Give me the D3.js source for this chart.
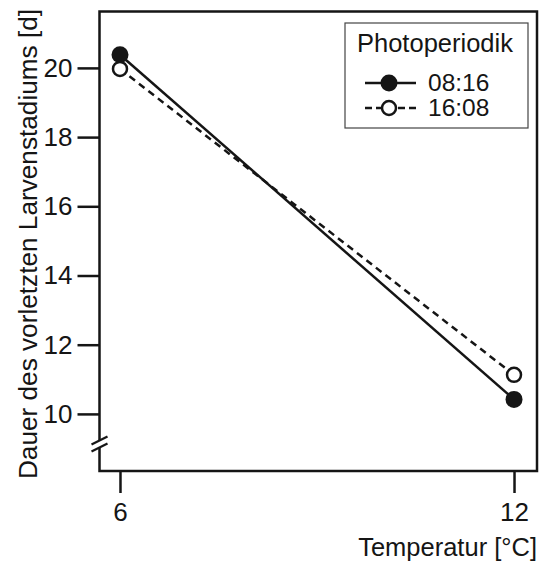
<!DOCTYPE html>
<html>
<head>
<meta charset="utf-8">
<script src="https://cdn.jsdelivr.net/npm/d3@7"></script>
<style>
  html, body { margin: 0; padding: 0; background: #fff; }
  svg { display: block; font-family: "Liberation Sans", Arial, sans-serif; }
</style>
</head>
<body>
<svg id="chart" width="540" height="562"></svg>
<script>
// Temperature levels (°C)
const temperatures = [6, 12];
// Duration of the penultimate larval instar (days) per photoperiod
const shortDay = [20.38, 10.42];   // 08:16
const longDay = [19.97, 11.13];    // 16:08
const seriesNames = ["08:16", "16:08"];
const yTicks = [10, 12, 14, 16, 18, 20];
const xTicks = [6, 12];

const svg = d3.select("#chart");
const plot = { left: 99.5, right: 537, top: 11.5, bottom: 471 };
const ink = "#151515";
const lw = 2.5;

const x = d3.scaleLinear().domain([5.688, 12.35]).range([plot.left, plot.right]);
const y = d3.scaleLinear().domain([8.35, 21.63]).range([plot.bottom, plot.top]);

// frame
svg.append("rect")
  .attr("x", plot.left).attr("y", plot.top)
  .attr("width", plot.right - plot.left).attr("height", plot.bottom - plot.top)
  .attr("fill", "none").attr("stroke", ink).attr("stroke-width", lw);

// y axis
const yAxis = svg.append("g")
  .attr("transform", `translate(${plot.left},0)`)
  .call(d3.axisLeft(y).tickValues(yTicks).tickSize(22).tickPadding(5).tickSizeOuter(0)
    .tickFormat(d3.format("d")));
yAxis.select(".domain").remove();
yAxis.selectAll(".tick line").attr("stroke", ink).attr("stroke-width", lw);
yAxis.selectAll(".tick text").attr("font-size", 26).attr("fill", ink)
  .attr("font-family", "'Liberation Sans', Arial, sans-serif");

// x axis
const xAxis = svg.append("g")
  .attr("transform", `translate(0,${plot.bottom})`)
  .call(d3.axisBottom(x).tickValues(xTicks).tickSize(22).tickPadding(10).tickSizeOuter(0)
    .tickFormat(d3.format("d")));
xAxis.select(".domain").remove();
xAxis.selectAll(".tick line").attr("stroke", ink).attr("stroke-width", lw);
xAxis.selectAll(".tick text").attr("font-size", 26).attr("fill", ink)
  .attr("font-family", "'Liberation Sans', Arial, sans-serif");

// axis break marks on the y axis
const breakY = 444;
svg.append("rect").attr("x", plot.left - 3).attr("y", breakY - 3).attr("width", 6).attr("height", 6).attr("fill", "#fff");
[-3.5, 3.5].forEach(d => {
  svg.append("line")
    .attr("x1", plot.left - 8).attr("y1", breakY + d + 4)
    .attr("x2", plot.left + 8).attr("y2", breakY + d - 4)
    .attr("stroke", ink).attr("stroke-width", 2.2);
});

// series lines
const line = d3.line().x((d, i) => x(temperatures[i])).y(d => y(d));
svg.append("path").datum(longDay).attr("d", line)
  .attr("fill", "none").attr("stroke", ink).attr("stroke-width", lw)
  .attr("stroke-dasharray", "7,5");
svg.append("path").datum(shortDay).attr("d", line)
  .attr("fill", "none").attr("stroke", ink).attr("stroke-width", lw);

// markers
svg.selectAll(".m-short").data(shortDay).enter().append("circle")
  .attr("cx", (d, i) => x(temperatures[i])).attr("cy", d => y(d))
  .attr("r", 8.5).attr("fill", ink);
svg.selectAll(".m-long").data(longDay).enter().append("circle")
  .attr("cx", (d, i) => x(temperatures[i])).attr("cy", d => y(d))
  .attr("r", 7).attr("fill", "#fff").attr("stroke", ink).attr("stroke-width", lw);

// axis titles
svg.append("text")
  .attr("x", 537).attr("y", 556).attr("text-anchor", "end")
  .attr("font-size", 25.5).attr("fill", ink)
  .text("Temperatur [°C]");
svg.append("text")
  .attr("transform", "translate(37,244) rotate(-90)")
  .attr("text-anchor", "middle")
  .attr("font-size", 26.2).attr("fill", ink)
  .text("Dauer des vorletzten Larvenstadiums [d]");

// legend
const lg = svg.append("g");
lg.append("rect").attr("x", 345).attr("y", 23).attr("width", 183).attr("height", 105)
  .attr("fill", "#fff").attr("stroke", "#444").attr("stroke-width", 1.2);
lg.append("text").attr("x", 357).attr("y", 52).attr("font-size", 25.5).attr("fill", ink)
  .text("Photoperiodik");
const rows = [
  { name: seriesNames[0], dash: null, fill: ink, r: 8.5, cy: 83 },
  { name: seriesNames[1], dash: "7,4", fill: "#fff", r: 7, cy: 108 }
];
rows.forEach(r => {
  lg.append("line").attr("x1", 365).attr("x2", 416).attr("y1", r.cy).attr("y2", r.cy)
    .attr("stroke", ink).attr("stroke-width", lw)
    .attr("stroke-dasharray", r.dash);
  lg.append("circle").attr("cx", 389).attr("cy", r.cy).attr("r", r.r)
    .attr("fill", r.fill).attr("stroke", r.fill === "#fff" ? ink : "none").attr("stroke-width", lw);
  lg.append("text").attr("x", 428).attr("y", r.cy + 8).attr("font-size", 24.5).attr("fill", ink)
    .text(r.name);
});
</script>
</body>
</html>
